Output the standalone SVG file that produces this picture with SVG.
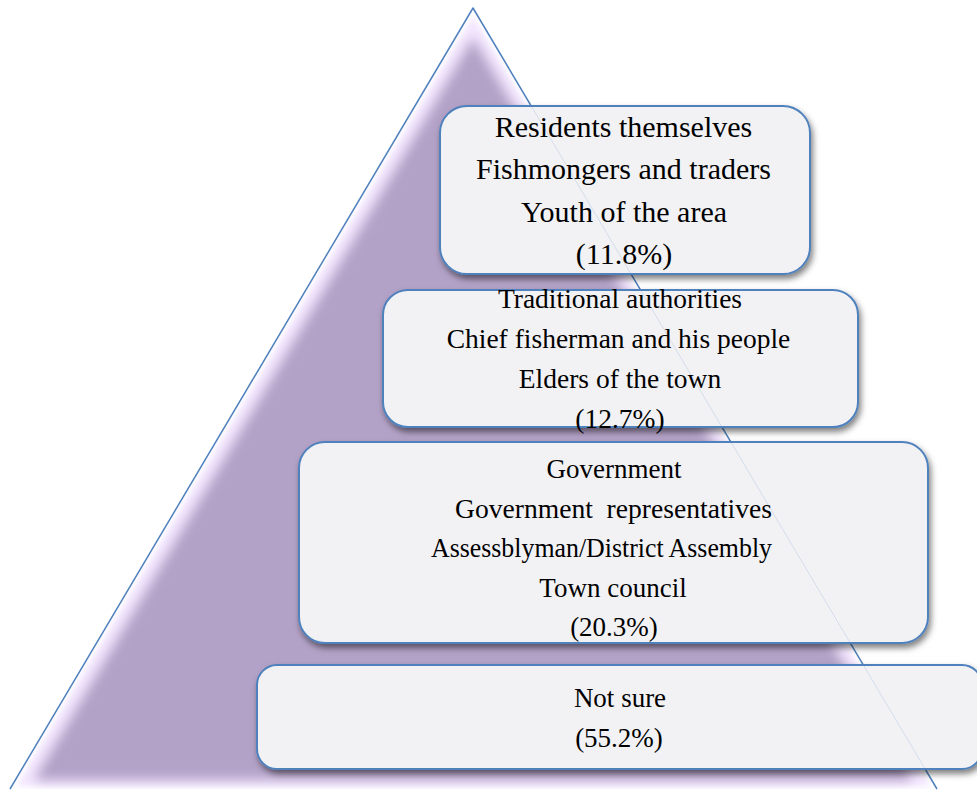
<svg xmlns="http://www.w3.org/2000/svg" width="977" height="791" viewBox="0 0 977 791">
<defs>
<style>
.box{fill:#F2F2F5;stroke:#4F81BD;stroke-width:2;filter:url(#shadow)}
.t{font-family:"Liberation Serif","Times New Roman",serif;fill:#000;text-anchor:middle}
.t1{font-size:30px}
.t2{font-size:27.5px}
.t3{font-size:27px}
</style>
<clipPath id="triClip"><polygon points="473,8 10,789 937,789"/></clipPath>
<filter id="soft" x="-5%" y="-5%" width="110%" height="110%">
<feMorphology operator="erode" radius="11"/>
<feGaussianBlur stdDeviation="6"/>
</filter>
<filter id="soft2" x="-5%" y="-5%" width="110%" height="110%">
<feMorphology operator="erode" radius="3"/>
<feGaussianBlur stdDeviation="3"/>
</filter>
<filter id="shadow" x="-10%" y="-10%" width="125%" height="130%">
<feDropShadow dx="2" dy="4" stdDeviation="3" flood-color="#000" flood-opacity="0.5"/>
</filter>
</defs>
<rect width="977" height="791" fill="#FFFFFF"/>
<g id="pyramid">
<g clip-path="url(#triClip)">
<polygon points="473,8 10,789 937,789" fill="#F3E6FF" filter="url(#soft2)"/>
<polygon points="473,8 10,791 937,791" fill="#B3A2C7" filter="url(#soft)"/>
</g>
<polyline points="10,789 473,8 937,789" fill="none" stroke="#4F81BD" stroke-width="1.5" stroke-linejoin="round"/>
</g>
<g id="node-1">
<rect class="box" x="440" y="106" width="370" height="168" rx="27" ry="27"/>
</g>
<g id="node-2">
<rect class="box" x="383" y="290" width="475" height="137" rx="25" ry="25"/>
</g>
<g id="node-3">
<rect class="box" x="299" y="442" width="629" height="201" rx="26" ry="26"/>
</g>
<g id="node-4">
<rect class="box" x="257" y="665" width="725" height="104" rx="20" ry="20"/>
</g>
<g id="edge-through">
<line x1="473" y1="8" x2="937" y2="789" stroke="#4F81BD" stroke-width="1" stroke-opacity="0.18"/>
</g>
<g id="labels">
<text class="t t1" x="623.5" y="137">Residents themselves</text>
<text class="t t1" x="623.5" y="179">Fishmongers and traders</text>
<text class="t t1" x="624" y="222">Youth of the area</text>
<text class="t t1" x="624" y="264">(11.8%)</text>
<text class="t t2" x="620" y="308">Traditional authorities</text>
<text class="t t2" x="618.5" y="348">Chief fisherman and his people</text>
<text class="t t2" x="620" y="388">Elders of the town</text>
<text class="t t2" x="620" y="428">(12.7%)</text>
<text class="t t3" x="614" y="478">Government</text>
<text class="t t3" x="613.5" y="518" xml:space="preserve" textLength="317" lengthAdjust="spacingAndGlyphs">Government  representatives</text>
<text class="t t3" x="601.5" y="557" textLength="341" lengthAdjust="spacingAndGlyphs">Assessblyman/District Assembly</text>
<text class="t t3" x="613" y="597">Town council</text>
<text class="t t3" x="614" y="636">(20.3%)</text>
<text class="t t3" x="620" y="707">Not sure</text>
<text class="t t3" x="619" y="747">(55.2%)</text>
</g>
</svg>
